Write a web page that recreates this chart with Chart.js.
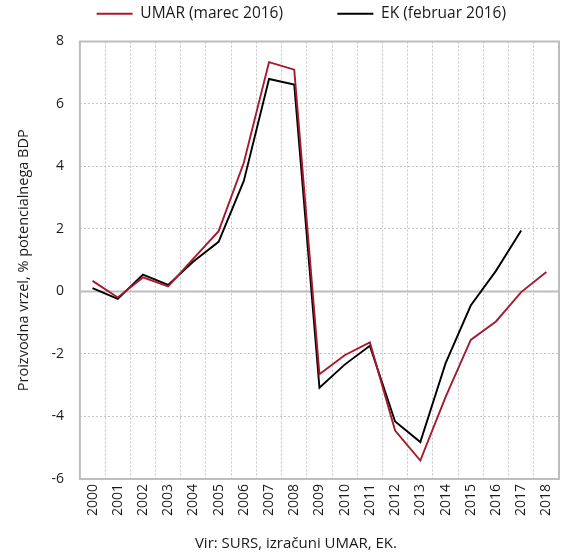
<!DOCTYPE html>
<html>
<head>
<meta charset="utf-8">
<script src="https://cdn.jsdelivr.net/npm/chart.js@4.4.1/dist/chart.umd.min.js"></script>
<style>
  html, body { margin: 0; padding: 0; background: #fff; }
  #wrap { width: 564px; height: 553px; position: relative; }
</style>
</head>
<body>
<div id="wrap"><canvas id="chart"></canvas></div>
<script>
// --- data ---
const years = ['2000', '2001', '2002', '2003', '2004', '2005', '2006', '2007', '2008', '2009',
               '2010', '2011', '2012', '2013', '2014', '2015', '2016', '2017', '2018'];
const umar = [0.34, -0.19, 0.45, 0.16, 1.05, 1.93, 4.12, 7.34, 7.10, -2.65,
              -2.04, -1.63, -4.45, -5.41, -3.38, -1.55, -0.96, -0.02, 0.62];
const ek = [0.11, -0.24, 0.54, 0.21, 0.96, 1.59, 3.54, 6.80, 6.62, -3.08,
            -2.34, -1.74, -4.16, -4.82, -2.30, -0.45, 0.66, 1.95, null];
const yTicks = [-6, -4, -2, 0, 2, 4, 6, 8];
const source = 'Vir: SURS, izračuni UMAR, EK.';

const FONT = "'Open Sans', sans-serif";
const TXT = '#1a1a1a';
const RED = '#a6192e';
const GRID = '#c4c4c4';

// frame round the plot area, solid zero line, source note underneath
const framePlugin = {
  id: 'frame',
  beforeDatasetsDraw(chart) {
    const { ctx, chartArea: a, scales } = chart;
    const y0 = scales.y.getPixelForValue(0);
    ctx.save();
    ctx.strokeStyle = '#bdbdbd';
    ctx.lineWidth = 2;
    ctx.beginPath();
    ctx.moveTo(a.left, y0);
    ctx.lineTo(a.right, y0);
    ctx.stroke();
    ctx.strokeRect(a.left, a.top, a.right - a.left, a.bottom - a.top);
    ctx.restore();
  },
  afterDraw(chart) {
    const { ctx, chartArea: a } = chart;
    ctx.save();
    ctx.font = '15px ' + FONT;
    ctx.fillStyle = TXT;
    ctx.textAlign = 'center';
    ctx.textBaseline = 'middle';
    ctx.fillText(source, (a.left + a.right) / 2 - 23.5, chart.height - 9);
    ctx.restore();
  }
};

new Chart(document.getElementById('chart'), {
  type: 'line',
  data: {
    labels: years,
    datasets: [
      { label: 'UMAR (marec 2016)', data: umar, borderColor: RED, backgroundColor: RED,
        borderWidth: 1.9, pointRadius: 0, tension: 0, xAxisID: 'x', yAxisID: 'y' },
      { label: 'EK (februar 2016)', data: ek, borderColor: '#000', backgroundColor: '#000',
        borderWidth: 1.9, pointRadius: 0, tension: 0, xAxisID: 'x', yAxisID: 'y' }
    ]
  },
  options: {
    responsive: true,
    maintainAspectRatio: false,
    animation: false,
    layout: { padding: { left: 12, right: 5, top: 0, bottom: 32 } },
    plugins: {
      legend: {
        position: 'top',
        fullSize: false,
        labels: {
          font: { family: FONT, size: 15.5 }, color: TXT,
          boxWidth: 36, boxHeight: 2, padding: 6,
          generateLabels(chart) {
            const items = Chart.defaults.plugins.legend.labels.generateLabels(chart);
            items[0].text += '            ';
            items[1].text += '         ';
            items.forEach(it => { it.lineWidth = 0; });
            return items;
          }
        }
      },
      tooltip: { enabled: false }
    },
    scales: {
      x: {
        offset: true,
        grid: { offset: true, color: GRID, lineWidth: 1, drawTicks: false },
        border: { display: false, dash: [2, 2] },
        ticks: { font: { family: FONT, size: 14 }, color: TXT, maxRotation: 90, minRotation: 90,
                 autoSkip: false, padding: 5 },
        afterFit(scale) { scale.paddingLeft = 0; scale.paddingRight = 0; }
      },
      y: {
        min: -6, max: 8,
        afterBuildTicks(scale) { scale.ticks = yTicks.map(v => ({ value: v })); },
        grid: { color: GRID, lineWidth: 1, drawTicks: false },
        border: { display: false, dash: [2, 2] },
        ticks: { font: { family: FONT, size: 14 }, color: TXT, padding: 16 },
        title: { display: true, text: 'Proizvodna vrzel, % potencialnega BDP',
                 font: { family: FONT, size: 14.5 }, color: TXT, padding: 3 }
      },
      // empty spacer between legend and plot
      gap: {
        type: 'category', position: 'top', labels: [''],
        grid: { display: false }, border: { display: false }, ticks: { display: false },
        afterFit(scale) { scale.height = 10; }
      }
    }
  },
  plugins: [framePlugin]
});
</script>
</body>
</html>
